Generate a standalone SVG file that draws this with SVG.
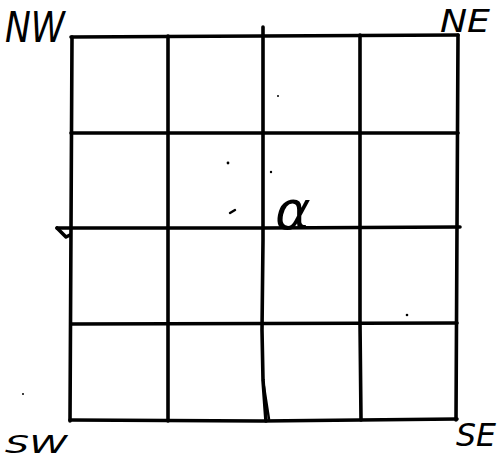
<svg xmlns="http://www.w3.org/2000/svg" width="502" height="459" viewBox="0 0 502 459">
<style>
.ln{stroke:#000;stroke-width:3.6;fill:none;stroke-linecap:round;stroke-linejoin:round}
.thin{stroke:#000;stroke-width:2.4;fill:none;stroke-linecap:round}
.lbl{font-family:"DejaVu Sans","Liberation Sans",sans-serif;font-style:italic;fill:#000}
.dot{fill:#000}
</style>
<rect width="502" height="459" fill="#fff"/>
<g id="grid">
<path class="ln" d="M71,37 L262,36 L458,35"/>
<path class="ln" d="M71,133 L458,133"/>
<path class="ln" d="M57,228 L262,228 L460,227"/>
<path class="ln" d="M57,228 L66,237 L70,235"/>
<path class="ln" d="M71,324 L457,323"/>
<path class="ln" d="M70,420 L262,421 L457,419"/>
<path class="ln" d="M72,37 L71,228 L70,421"/>
<path class="ln" d="M168,36 L168,421"/>
<path class="ln" d="M360,35 L360,323 L361,420"/>
<path class="ln" d="M458,35 L457,227 L456,420"/>
<path class="ln" d="M263,27 L263,240 L262,330 L263,380 L266,421"/>
<path class="thin" d="M263,380 L269,419"/>
</g>
<g id="marks">
<circle class="dot" cx="228" cy="163" r="1.4"/>
<circle class="dot" cx="271" cy="172" r="1.2"/>
<circle class="dot" cx="278" cy="96" r="1"/>
<circle class="dot" cx="407" cy="315" r="1.3"/>
<circle class="dot" cx="23" cy="394" r="1"/>
<path class="thin" d="M230,213 L235,210" stroke-width="1.8"/>
</g>
<g id="labels">
<text id="nw" class="lbl" x="5" y="42" font-size="42" textLength="60" lengthAdjust="spacingAndGlyphs">NW</text>
<text id="ne" class="lbl" x="440" y="32" font-size="32" textLength="50" lengthAdjust="spacingAndGlyphs">NE</text>
<text id="sw" class="lbl" x="5" y="453" font-size="24" textLength="62" lengthAdjust="spacingAndGlyphs">SW</text>
<text id="se" class="lbl" x="456" y="446" font-size="32" textLength="40" lengthAdjust="spacingAndGlyphs">SE</text>
<text id="alpha" class="lbl" x="275" y="229" font-size="54">α</text>
</g>
</svg>
